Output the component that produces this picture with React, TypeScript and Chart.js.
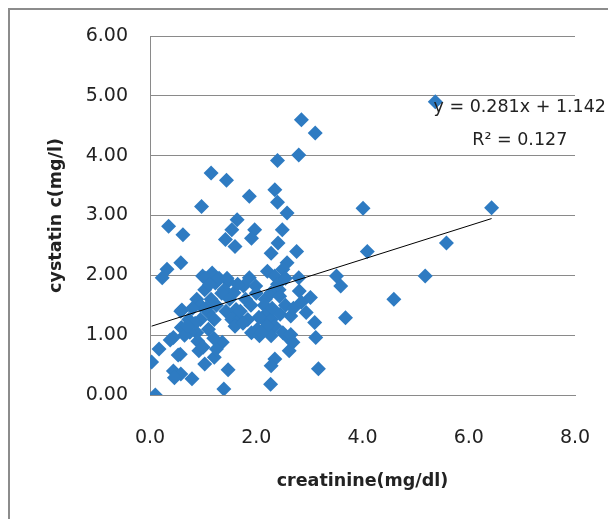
import React, { useEffect, useRef } from "react";
import { Chart, registerables } from "chart.js";

Chart.register(...registerables);

// creatinine (mg/dl)
const creatinine: number[] = [
  5.37, 2.85, 3.11, 2.80, 2.40, 1.15, 1.44, 2.35, 1.87, 2.40,
  0.97, 4.01, 6.43, 2.58, 1.64, 0.35, 1.54, 1.97, 2.49, 0.62,
  1.91, 1.42, 1.60, 2.41, 5.58, 2.76, 4.09, 2.28, 0.58, 2.58,
  2.50, 0.32, 0.23, 5.18, 3.51, 3.59, 4.59, 3.68, 3.02, 2.81,
  2.80, 3.10, 3.12, 2.94, 3.17, 2.65, 2.63, 2.62, 2.35, 2.28,
  2.27, 1.39, 0.10, 0.03, 0.17, 0.44, 0.44, 0.58, 0.46, 0.79,
  1.47, 0.57, 0.92, 1.03, 1.21, 1.36, 1.25, 0.59, 0.58, 0.73,
  0.88, 0.95, 0.88, 1.03, 0.99, 1.17, 1.23, 1.10, 1.21, 1.43,
  1.54, 1.62, 1.69, 1.47, 1.40, 1.58, 1.76, 1.87, 1.99, 2.02,
  1.91, 2.06, 1.84, 2.13, 2.21, 2.17, 2.28, 2.21, 2.35, 2.43,
  2.44, 2.28, 2.35, 2.28, 2.50, 2.65, 2.69, 0.53, 0.38, 0.60,
  1.05, 1.12, 1.30, 1.35, 1.15, 1.25, 0.95, 1.05, 0.85, 0.90,
  1.00, 1.10, 1.20, 0.75, 0.65, 1.65, 1.80, 1.70, 1.90, 2.05,
  2.00, 2.15, 1.60, 1.75, 2.30, 2.45, 2.55, 2.70, 2.85, 2.40,
  2.55, 1.45, 1.50, 0.80, 0.70, 2.20, 2.10,
];

// cystatin c (mg/l)
const cystatin: number[] = [
  4.90, 4.60, 4.38, 4.01, 3.92, 3.71, 3.59, 3.43, 3.32, 3.22,
  3.15, 3.12, 3.13, 3.04, 2.93, 2.82, 2.76, 2.76, 2.76, 2.68,
  2.62, 2.60, 2.48, 2.54, 2.54, 2.40, 2.40, 2.37, 2.21, 2.21,
  2.10, 2.10, 1.96, 1.99, 1.99, 1.82, 1.60, 1.29, 1.63, 1.74,
  1.96, 1.21, 0.96, 1.38, 0.44, 1.32, 0.93, 0.74, 0.60, 0.49,
  0.18, 0.10, 0.00, 0.55, 0.77, 0.96, 0.40, 0.35, 0.29, 0.27,
  0.42, 0.68, 0.74, 0.52, 0.63, 0.88, 0.77, 1.13, 1.40, 1.26,
  1.04, 1.26, 1.60, 1.76, 1.99, 2.04, 1.87, 1.38, 1.26, 1.40,
  1.26, 1.43, 1.26, 1.90, 1.76, 1.71, 1.82, 1.96, 1.82, 1.10,
  1.04, 0.99, 1.26, 1.26, 1.38, 1.60, 1.71, 2.07, 1.99, 1.76,
  1.65, 1.26, 1.15, 0.99, 1.04, 1.01, 0.88, 0.67, 0.92, 1.42,
  1.95, 1.85, 1.95, 1.70, 1.60, 1.50, 1.50, 1.45, 1.20, 0.90,
  0.80, 1.10, 0.95, 1.05, 1.00, 1.85, 1.60, 1.40, 1.50, 1.30,
  1.70, 1.50, 1.15, 1.20, 1.45, 1.35, 1.50, 1.45, 1.55, 1.85,
  1.95, 1.95, 1.60, 1.45, 1.15, 1.15, 1.05,
];

const xTicks: number[] = [0, 2, 4, 6, 8];
const yTicks: number[] = [0, 1, 2, 3, 4, 5, 6];

const slope = 0.281;
const intercept = 1.142;
const equationText = "y = 0.281x + 1.142";
const r2Text = "R\u00B2 = 0.127";
// anchor (data coords) for the centre of the trendline labels
const eqAnchor = { x: 6.96, y: 4.8 };
const r2Anchor = { x: 6.96, y: 4.26 };

const xTitle = "creatinine(mg/dl)";
const yTitle = "cystatin c(mg/l)";

const MARKER = "#2E7BC2";

const zeroPad = (s: any) => {
  s.paddingLeft = 0;
  s.paddingRight = 0;
  s.paddingTop = 0;
  s.paddingBottom = 0;
};

export default function App() {
  const ref = useRef<HTMLCanvasElement | null>(null);

  useEffect(() => {
    if (!ref.current) return;
    const points = creatinine.map((x, i) => ({ x, y: cystatin[i] }));
    const xMin = Math.min(...creatinine);
    const xMax = Math.max(...creatinine);
    const trend = [
      { x: xMin, y: slope * xMin + intercept },
      { x: xMax, y: slope * xMax + intercept },
    ];

    const labelPlugin = {
      id: "eqLabel",
      afterDatasetsDraw(chart: any) {
        const { ctx, scales } = chart;
        ctx.save();
        ctx.fillStyle = "#222";
        ctx.font = "17.5px 'DejaVu Sans'";
        ctx.textAlign = "center";
        ctx.textBaseline = "middle";
        ctx.fillText(
          equationText,
          scales.x.getPixelForValue(eqAnchor.x),
          scales.y.getPixelForValue(eqAnchor.y)
        );
        ctx.fillText(
          r2Text,
          scales.x.getPixelForValue(r2Anchor.x),
          scales.y.getPixelForValue(r2Anchor.y)
        );
        ctx.restore();
      },
    };

    const chart = new Chart(ref.current, {
      type: "scatter",
      data: {
        datasets: [
          {
            type: "line",
            data: trend,
            borderColor: "#000",
            borderWidth: 1,
            pointRadius: 0,
            showLine: true,
            fill: false,
            order: 0,
          } as any,
          {
            data: points,
            backgroundColor: MARKER,
            borderColor: MARKER,
            borderWidth: 0,
            pointStyle: "rectRot",
            pointRadius: 7.5,
            order: 1,
          },
        ],
      },
      options: {
        animation: false,
        responsive: false,
        devicePixelRatio: 1,
        layout: { padding: { top: 26, right: 37, left: 0, bottom: 0 } },
        plugins: {
          legend: { display: false },
          tooltip: { enabled: false },
        },
        scales: {
          x: {
            type: "linear",
            min: 0,
            max: 8,
            afterBuildTicks: (s: any) => {
              s.ticks = xTicks.map((v) => ({ value: v }));
            },
            afterFit: (s: any) => {
              s.height = 124;
              zeroPad(s);
            },
            grid: { display: false, drawTicks: false },
            border: { display: true, color: "#8a8a8a", width: 1 },
            ticks: {
              padding: 32,
              color: "#222",
              font: { family: "DejaVu Sans", size: 19 },
              callback: (v: any) => Number(v).toFixed(1),
            },
            title: {
              display: true,
              text: xTitle,
              color: "#222",
              font: { family: "DejaVu Sans", size: 17.5, weight: "bold" },
              padding: { top: 0, bottom: 27 },
            },
          },
          y: {
            type: "linear",
            min: 0,
            max: 6,
            afterBuildTicks: (s: any) => {
              s.ticks = yTicks.map((v) => ({ value: v }));
            },
            afterFit: (s: any) => {
              s.width = 140;
              zeroPad(s);
            },
            grid: { display: true, color: "#8a8a8a", lineWidth: 1, drawTicks: false },
            border: { display: true, color: "#8a8a8a", width: 1 },
            ticks: {
              padding: 22,
              color: "#222",
              font: { family: "DejaVu Sans", size: 19 },
              callback: (v: any) => Number(v).toFixed(2),
            },
            title: {
              display: true,
              text: yTitle,
              color: "#222",
              font: { family: "DejaVu Sans", size: 17.5, weight: "bold" },
              padding: { top: 36, bottom: 0 },
            },
          },
        },
      },
      plugins: [labelPlugin],
    });
    return () => chart.destroy();
  }, []);

  return (
    <div
      style={{
        position: "relative",
        width: 606,
        height: 520,
        boxSizing: "border-box",
        borderLeft: "2px solid #8c8c8c",
        borderTop: "2px solid #8c8c8c",
        borderRight: "2px solid #8c8c8c",
        background: "#fff",
      }}
    >
      <canvas ref={ref} width={602} height={509} style={{ display: "block" }} />
    </div>
  );
}
